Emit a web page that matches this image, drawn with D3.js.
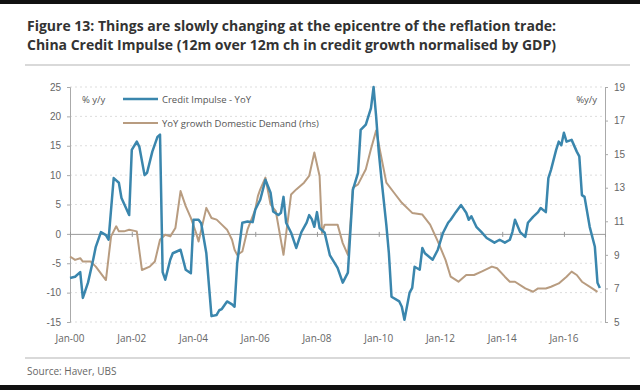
<!DOCTYPE html>
<html>
<head>
<meta charset="utf-8">
<script src="https://cdn.jsdelivr.net/npm/d3@7"></script>
<style>
  body { margin: 0; background: #fff; }
  svg { display: block; font-family: 'Open Sans', 'Noto Sans', sans-serif; }
  .title { font-weight: bold; font-size: 14px; fill: #333; }
  .tick-label { font-size: 10px; fill: #666; }
  .legend-label { font-size: 9.5px; fill: #555; }
  .rule { stroke: #ccc; stroke-width: 1.5; }
  .grid { stroke: #ddd; stroke-width: 1; stroke-dasharray: 2,3; }
</style>
</head>
<body>
<div id="chart"></div>
<script>

// Credit impulse (lhs, % y/y)
var ciDates = ['2000-01','2000-03','2000-05','2000-06','2000-08','2000-10','2000-11','2001-01','2001-03','2001-04',
  '2001-06','2001-08','2001-09','2001-12','2002-01','2002-03','2002-04','2002-06','2002-07','2002-09','2002-11','2002-12',
  '2003-01','2003-02','2003-04','2003-05','2003-08','2003-10','2003-12','2004-01','2004-03','2004-04','2004-06','2004-08',
  '2004-10','2004-11','2004-12','2005-02','2005-04','2005-05','2005-06','2005-08','2005-10','2005-12','2006-01','2006-03',
  '2006-05','2006-07','2006-08','2006-10','2006-11','2006-12','2007-01','2007-03','2007-05','2007-07','2007-09','2007-10',
  '2007-11','2007-12','2008-01','2008-02','2008-04','2008-06','2008-09','2008-11','2009-01','2009-03','2009-05','2009-06',
  '2009-08','2009-10','2009-11','2009-12','2010-01','2010-02','2010-04','2010-05','2010-06','2010-09','2010-10','2010-11',
  '2011-01','2011-02','2011-03','2011-05','2011-06','2011-07','2011-10','2011-12','2012-02','2012-04','2012-05','2012-07',
  '2012-09','2012-11','2012-12','2013-01','2013-03','2013-05','2013-07','2013-10','2013-12','2014-02','2014-04','2014-05',
  '2014-06','2014-08','2014-10','2014-11','2015-01','2015-03','2015-04','2015-06','2015-07','2015-08','2015-10','2015-11',
  '2015-12','2016-01','2016-02','2016-04','2016-06','2016-07','2016-08','2016-09','2016-11','2017-01','2017-02','2017-03'];
var ciValues = [-7.5,-7.3,-6.5,-10.9,-8.3,-4.4,-2.2,0.3,-0.2,-1.0,
  9.5,8.7,6.1,3.2,14.3,15.7,14.8,10.0,10.4,14.0,16.5,16.9,
  -6.5,-7.8,-4.4,-3.3,-2.7,-6.1,-6.7,2.4,2.4,1.8,-3.3,-14.0,
  -13.8,-13.0,-12.8,-11.5,-12.0,-12.4,-5.0,1.9,2.1,2.0,4.1,5.8,
  9.2,7.0,3.8,3.2,3.6,6.3,1.9,0.2,-2.4,0.3,1.9,3.2,
  2.5,1.2,3.7,1.0,0.2,-3.6,-5.8,-8.3,-6.6,7.5,10.4,17.7,
  18.6,21.4,25.0,20.0,14.0,9.5,1.5,-3.3,-10.7,-11.5,-12.4,-14.6,
  -10.0,-9.2,-5.6,-6.1,-2.4,-3.3,-4.4,-2.7,0.2,1.9,2.4,3.7,
  4.9,3.6,2.4,3.0,1.2,0.3,-0.7,-1.5,-1.0,-1.5,-1.0,0.3,
  2.4,0.3,-0.5,1.9,2.9,3.7,4.4,3.7,9.5,10.9,14.3,15.7,
  15.1,17.2,15.7,16.0,14.0,13.2,6.6,6.3,1.2,-2.2,-8.3,-9.2];

// YoY growth domestic demand (rhs, % y/y)
var ddDates = ['2000-01','2000-03','2000-05','2000-06','2000-09','2000-11','2001-03','2001-05','2001-07','2001-08',
  '2001-10','2001-12','2002-03','2002-05','2002-08','2002-10','2002-12','2003-02','2003-04','2003-06','2003-08','2003-10',
  '2003-12','2004-02','2004-03','2004-06','2004-08','2004-10','2004-12','2005-02','2005-04','2005-05','2005-06','2005-08',
  '2005-10','2006-01','2006-02','2006-03','2006-05','2006-07','2006-09','2006-12','2007-03','2007-05','2007-08','2007-10',
  '2007-12','2008-02','2008-03','2008-04','2008-07','2008-09','2008-11','2009-01','2009-02','2009-03','2009-05','2009-08',
  '2009-10','2009-12','2010-02','2010-04','2010-07','2010-10','2011-02','2011-06','2011-09','2011-12','2012-03','2012-05',
  '2012-08','2012-11','2013-02','2013-05','2013-09','2013-11','2014-02','2014-04','2014-06','2014-10','2015-01','2015-03',
  '2015-06','2015-08','2015-11','2016-02','2016-04','2016-06','2016-08','2016-12','2017-02'];
var ddValues = [8.9,8.7,8.8,8.6,8.6,8.3,7.5,10.1,10.7,10.4,
  10.4,10.5,10.4,8.1,8.3,8.6,9.9,10.2,10.1,10.6,12.8,11.9,
  11.2,10.3,9.8,11.8,11.2,11.1,10.8,10.5,9.9,9.3,9.0,9.2,
  10.5,11.7,12.5,12.9,13.6,12.0,11.6,9.0,12.6,12.9,13.3,13.7,
  15.1,13.7,10.3,10.8,10.8,10.8,9.7,9.0,10.9,13.0,13.2,14.1,
  15.3,16.4,14.8,13.3,12.7,12.1,11.5,11.4,10.8,9.8,8.7,7.7,
  7.4,7.8,7.8,8.0,8.3,8.2,7.7,7.4,7.4,7.0,6.8,7.0,
  7.0,7.1,7.3,7.7,8.0,7.8,7.4,7.0,6.8];

var leftTicks = [25, 20, 15, 10, 5, 0, -5, -10, -15];
var rightTicks = [19, 17, 15, 13, 11, 9, 7, 5];
var xTickLabels = ['2000-01','2002-01','2004-01','2006-01','2008-01','2010-01','2012-01','2014-01','2016-01'];

var width = 640,
    height = 390,
    plot = { left: 70, right: 605, top: 87, bottom: 322 };

var parse = d3.timeParse('%Y-%m');

var svg = d3.select('#chart')
  .append('svg')
    .attr('width', width)
    .attr('height', height);

// Scales
var x = d3.scaleTime()
  .domain([parse('2000-01'), parse('2017-05')])
  .range([plot.left, plot.right]);
var yLeft = d3.scaleLinear().domain([-15, 25]).range([plot.bottom, plot.top]);
var yRight = d3.scaleLinear().domain([5, 19]).range([plot.bottom, plot.top]);

// Black bands top and bottom (scanned look)
svg.append('rect').attr('x', 0).attr('y', 0).attr('width', width).attr('height', 4).attr('fill', '#111');
svg.append('rect').attr('x', 0).attr('y', 385).attr('width', width).attr('height', 5).attr('fill', '#111');

// Title
svg.append('text').attr('class', 'title').attr('x', 27).attr('y', 31)
  .text('Figure 13: Things are slowly changing at the epicentre of the reflation trade:');
svg.append('text').attr('class', 'title').attr('x', 27).attr('y', 50)
  .text('China Credit Impulse (12m over 12m ch in credit growth normalised by GDP)');
svg.append('line').attr('class', 'rule')
  .attr('x1', 25).attr('x2', 630).attr('y1', 65).attr('y2', 65);

// Gridlines
svg.selectAll('.grid')
  .data(leftTicks.filter(function(d){ return d !== 0; }))
  .enter()
    .append('line')
      .attr('class', 'grid')
      .attr('x1', plot.left)
      .attr('x2', plot.right)
      .attr('y1', function(d){ return yLeft(d); })
      .attr('y2', function(d){ return yLeft(d); });

// Left axis
var leftAxis = svg.append('g')
  .attr('transform', 'translate(' + plot.left + ',0)')
  .call(d3.axisLeft(yLeft).tickValues(leftTicks).tickSize(3).tickPadding(6)
    .tickFormat(function(d){ return String(d); }));

// Right axis
var rightAxis = svg.append('g')
  .attr('transform', 'translate(' + plot.right + ',0)')
  .call(d3.axisRight(yRight).tickValues(rightTicks).tickSize(3).tickPadding(6)
    .tickFormat(function(d){ return String(d); }));

[leftAxis, rightAxis].forEach(function(g){
  g.select('.domain').attr('stroke', '#aaa');
  g.selectAll('.tick line').attr('stroke', '#aaa');
  g.selectAll('.tick text').attr('class', 'tick-label').attr('font-family', null).attr('font-size', null);
});

// Zero line with small ticks
var xAxis = svg.append('g')
  .attr('transform', 'translate(0,' + yLeft(0) + ')')
  .call(d3.axisBottom(x).tickValues(xTickLabels.map(parse)).tickSize(3).tickFormat(''));
xAxis.select('.domain').attr('stroke', '#999');
xAxis.selectAll('.tick line').attr('stroke', '#999').attr('y1', -2);

// X labels at bottom
svg.selectAll('.x-label')
  .data(xTickLabels)
  .enter()
    .append('text')
      .attr('class', 'tick-label')
      .attr('x', function(d){ return x(parse(d)); })
      .attr('y', 342)
      .attr('text-anchor', 'middle')
      .text(function(d){ return d3.timeFormat('%b-%y')(parse(d)); });

// Series
var ciData = ciDates.map(function(d, i){ return { date: parse(d), value: ciValues[i] }; });
var ddData = ddDates.map(function(d, i){ return { date: parse(d), value: ddValues[i] }; });

svg.append('path')
  .datum(ddData)
  .attr('fill', 'none')
  .attr('stroke', '#b89c80')
  .attr('stroke-width', 2)
  .attr('stroke-linejoin', 'round')
  .attr('d', d3.line().x(function(d){ return x(d.date); }).y(function(d){ return yRight(d.value); }));

svg.append('path')
  .datum(ciData)
  .attr('fill', 'none')
  .attr('stroke', '#3a86ad')
  .attr('stroke-width', 2.5)
  .attr('stroke-linejoin', 'round')
  .attr('d', d3.line().x(function(d){ return x(d.date); }).y(function(d){ return yLeft(d.value); }));

// Legend
svg.append('text').attr('class', 'legend-label').attr('x', 82).attr('y', 103).text('% y/y');
svg.append('text').attr('class', 'legend-label').attr('x', 597).attr('y', 103)
  .attr('text-anchor', 'end').text('%y/y');

var legend = [
  { name: 'Credit Impulse - YoY', color: '#3a86ad', w: 2.5 },
  { name: 'YoY growth Domestic Demand (rhs)', color: '#b89c80', w: 2 }
];
var lg = svg.selectAll('.legend')
  .data(legend)
  .enter()
    .append('g')
      .attr('transform', function(d, i){ return 'translate(123,' + (99 + i * 24) + ')'; });
lg.append('line')
  .attr('x1', 0).attr('x2', 35).attr('y1', 0).attr('y2', 0)
  .attr('stroke', function(d){ return d.color; })
  .attr('stroke-width', function(d){ return d.w; });
lg.append('text')
  .attr('class', 'legend-label')
  .attr('x', 39).attr('y', 3.5)
  .text(function(d){ return d.name; });

// Source
svg.append('line').attr('class', 'rule')
  .attr('x1', 25).attr('x2', 630).attr('y1', 358).attr('y2', 358);
svg.append('text').attr('class', 'tick-label').attr('x', 27).attr('y', 375)
  .text('Source:  Haver, UBS');

</script>
</body>
</html>
